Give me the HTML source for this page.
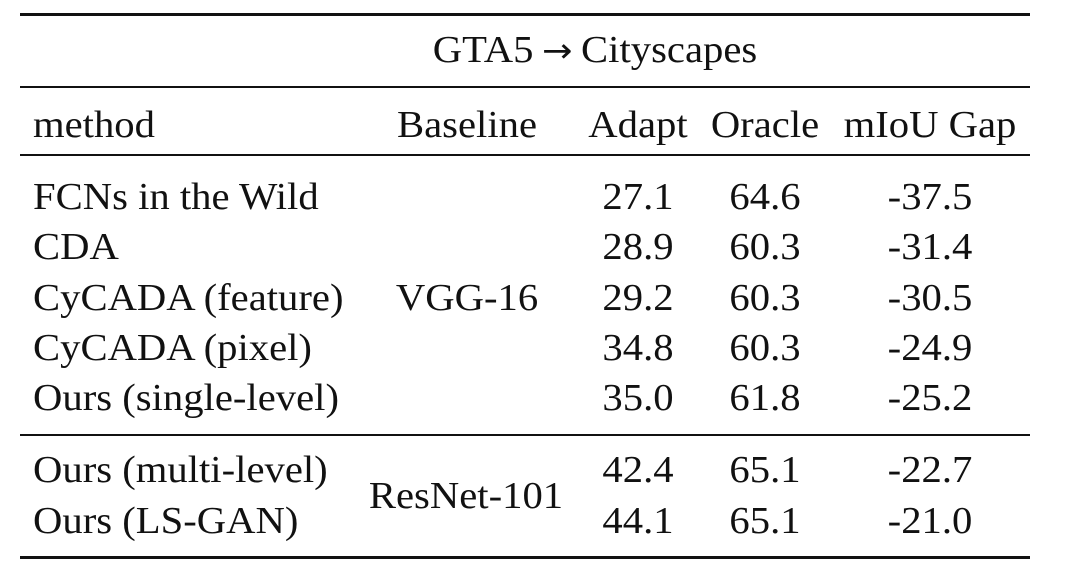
<!DOCTYPE html>
<html><head><meta charset="utf-8"><style>
html,body{margin:0;padding:0;background:#fff;}
body{width:1065px;height:587px;position:relative;overflow:hidden;font-family:"Liberation Serif","Times New Roman",serif;font-size:38px;color:#111;}
.t{position:absolute;height:50px;line-height:50px;white-space:nowrap;transform:scaleX(1.07);transform-origin:0 50%;}
.c{transform:translateX(-50%) scaleX(1.07);transform-origin:50% 50%;}
.r{position:absolute;left:20px;width:1010px;background:#111;}
</style></head><body>
<div class="r" style="top:13px;height:3px"></div>
<div class="r" style="top:86px;height:2px"></div>
<div class="r" style="top:154px;height:2px"></div>
<div class="r" style="top:434px;height:2px"></div>
<div class="r" style="top:556px;height:3px"></div>

<div class="t c" style="left:595px;top:25px">GTA5<span style="font-family:'DejaVu Sans',sans-serif;font-size:34px;margin:0 8px">→</span>Cityscapes</div>

<div class="t" style="left:33px;top:100px">method</div>
<div class="t c" style="left:467px;top:100px">Baseline</div>
<div class="t c" style="left:638px;top:100px">Adapt</div>
<div class="t c" style="left:765px;top:100px">Oracle</div>
<div class="t c" style="left:930px;top:100px">mIoU Gap</div>

<div class="t" style="left:33px;top:172px">FCNs in the Wild</div>
<div class="t" style="left:33px;top:222px">CDA</div>
<div class="t" style="left:33px;top:273px">CyCADA (feature)</div>
<div class="t" style="left:33px;top:323px">CyCADA (pixel)</div>
<div class="t" style="left:33px;top:373px">Ours (single-level)</div>
<div class="t" style="left:33px;top:445px">Ours (multi-level)</div>
<div class="t" style="left:33px;top:496px">Ours (LS-GAN)</div>

<div class="t c" style="left:467px;top:273px">VGG-16</div>
<div class="t c" style="left:466px;top:471px">ResNet-101</div>

<div class="t c" style="left:638px;top:172px">27.1</div>
<div class="t c" style="left:638px;top:222px">28.9</div>
<div class="t c" style="left:638px;top:273px">29.2</div>
<div class="t c" style="left:638px;top:323px">34.8</div>
<div class="t c" style="left:638px;top:373px">35.0</div>
<div class="t c" style="left:638px;top:445px">42.4</div>
<div class="t c" style="left:638px;top:496px">44.1</div>

<div class="t c" style="left:765px;top:172px">64.6</div>
<div class="t c" style="left:765px;top:222px">60.3</div>
<div class="t c" style="left:765px;top:273px">60.3</div>
<div class="t c" style="left:765px;top:323px">60.3</div>
<div class="t c" style="left:765px;top:373px">61.8</div>
<div class="t c" style="left:765px;top:445px">65.1</div>
<div class="t c" style="left:765px;top:496px">65.1</div>

<div class="t c" style="left:930px;top:172px">-37.5</div>
<div class="t c" style="left:930px;top:222px">-31.4</div>
<div class="t c" style="left:930px;top:273px">-30.5</div>
<div class="t c" style="left:930px;top:323px">-24.9</div>
<div class="t c" style="left:930px;top:373px">-25.2</div>
<div class="t c" style="left:930px;top:445px">-22.7</div>
<div class="t c" style="left:930px;top:496px">-21.0</div>
</body></html>
